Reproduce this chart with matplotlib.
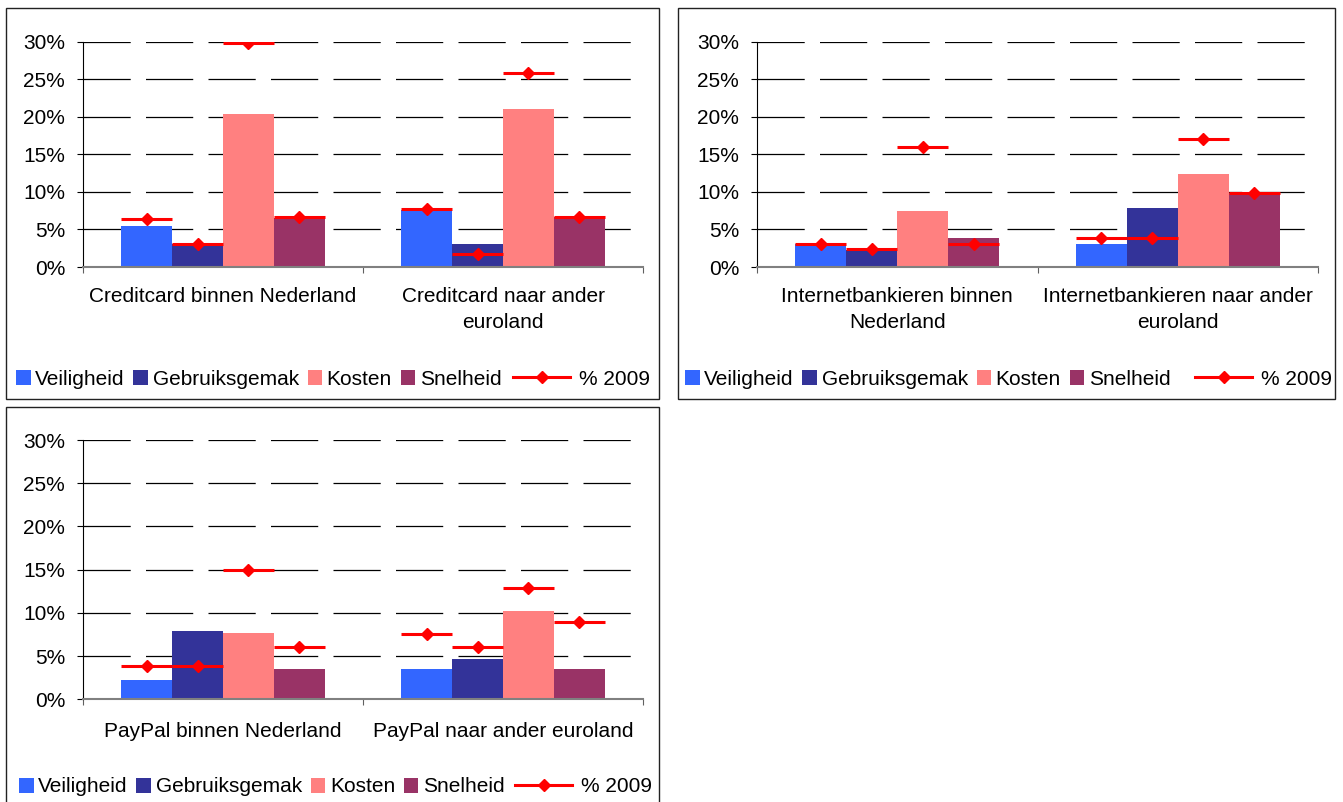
import matplotlib
matplotlib.use('Agg')
import matplotlib.pyplot as plt
from matplotlib.patches import Rectangle, Patch
from matplotlib.lines import Line2D
from matplotlib.ticker import FuncFormatter, MultipleLocator

# series names and colours
SERIES = ['Veiligheid', 'Gebruiksgemak', 'Kosten', 'Snelheid']
COLORS = ['#3366FF', '#333399', '#FF8080', '#993366']
LINE_LABEL = '% 2009'

# Creditcard
cc_categories = ['Creditcard binnen Nederland', 'Creditcard naar ander\neuroland']
cc_veiligheid = [5.4, 7.6]
cc_gebruiksgemak = [3.0, 3.0]
cc_kosten = [20.3, 21.0]
cc_snelheid = [6.5, 6.7]
cc_2009 = [6.4, 3.0, 29.8, 6.6, 7.7, 1.7, 25.8, 6.7]  # per category, per series

# Internetbankieren
ib_categories = ['Internetbankieren binnen\nNederland', 'Internetbankieren naar ander\neuroland']
ib_veiligheid = [3.0, 3.0]
ib_gebruiksgemak = [2.3, 7.8]
ib_kosten = [7.5, 12.4]
ib_snelheid = [3.8, 9.8]
ib_2009 = [3.0, 2.4, 15.9, 3.0, 3.9, 3.9, 17.0, 9.8]

# PayPal
pp_categories = ['PayPal binnen Nederland', 'PayPal naar ander euroland']
pp_veiligheid = [2.2, 3.5]
pp_gebruiksgemak = [7.9, 4.7]
pp_kosten = [7.7, 10.2]
pp_snelheid = [3.5, 3.5]
pp_2009 = [3.8, 3.8, 15.0, 6.0, 7.5, 6.0, 12.9, 9.0]

plt.rcParams['font.family'] = ['Liberation Sans', 'DejaVu Sans']
plt.rcParams['font.size'] = 15
plt.rcParams['lines.scale_dashes'] = False

W, H = 1343, 802
fig = plt.figure(figsize=(W / 100, H / 100), dpi=100)

BAR_W = 0.182


def drawPanel(box, area, categories, series_values, values2009, leg_y, leg_left, leg_right, xpad):
    # frame around the panel (pixel coords, top-left origin)
    x0, y0, x1, y1 = box
    fig.patches.append(Rectangle((x0 / W, 1 - y1 / H), (x1 - x0) / W, (y1 - y0) / H,
                                 transform=fig.transFigure, fill=False,
                                 edgecolor='#222222', lw=1.0))
    left, top, right, bottom = area
    ax = fig.add_axes([left / W, 1 - bottom / H, (right - left) / W, (bottom - top) / H])

    xs = []
    for c in range(len(categories)):
        for s in range(len(SERIES)):
            xs.append(c + (s - 1.5) * BAR_W)
    for s, vals in enumerate(series_values):
        pos = [c + (s - 1.5) * BAR_W for c in range(len(categories))]
        ax.bar(pos, vals, width=BAR_W, color=COLORS[s], zorder=2)

    ax.errorbar(xs, values2009, xerr=BAR_W / 2, fmt='D', color='red', ms=6.5,
                elinewidth=2.2, capsize=0, zorder=3)

    ax.set_xlim(-0.5, len(categories) - 0.5)
    ax.set_ylim(0, 30)
    ax.yaxis.set_major_locator(MultipleLocator(5))
    ax.yaxis.set_major_formatter(FuncFormatter(lambda v, p: '%d%%' % v))
    ax.set_axisbelow(True)
    ax.yaxis.grid(True, color='black', lw=0.9, linestyle=(0, (34, 11)))

    ax.set_xticks(range(len(categories)))
    ax.set_xticklabels(categories, linespacing=1.45)
    ax.set_xticks([-0.5, 0.5, 1.5], minor=True)
    ax.tick_params(axis='x', which='major', length=0, pad=xpad)
    ax.tick_params(axis='x', which='minor', length=4.3, width=0.8, color='#606060')
    ax.tick_params(axis='y', length=4.3, width=0.8, pad=8.6)

    for sp in ['top', 'right']:
        ax.spines[sp].set_visible(False)
    ax.spines['left'].set_linewidth(0.8)
    ax.spines['bottom'].set_color('#808080')
    ax.spines['bottom'].set_linewidth(1.5)

    handles = [Patch(facecolor=c) for c in COLORS]
    leg1 = ax.legend(handles, SERIES, loc='center left',
                     bbox_to_anchor=(leg_left / W, 1 - leg_y / H), bbox_transform=fig.transFigure,
                     ncol=4, frameon=False, handlelength=0.7, handleheight=0.7,
                     handletextpad=0.22, columnspacing=0.42, borderpad=0, borderaxespad=0)
    ax.add_artist(leg1)
    line = Line2D([], [], color='red', marker='D', ms=6.5, lw=2.2)
    ax.legend([line], [LINE_LABEL], loc='center right',
              bbox_to_anchor=(leg_right / W, 1 - leg_y / H), bbox_transform=fig.transFigure,
              frameon=False, handlelength=2.7, handletextpad=0.45,
              borderpad=0, borderaxespad=0)
    return ax


drawPanel((5.5, 7.5, 659, 399), (83, 41.5, 643, 267), cc_categories,
          [cc_veiligheid, cc_gebruiksgemak, cc_kosten, cc_snelheid], cc_2009, 379, 16, 650, 14.5)
drawPanel((678, 7.5, 1335, 399), (757, 41.5, 1318, 267), ib_categories,
          [ib_veiligheid, ib_gebruiksgemak, ib_kosten, ib_snelheid], ib_2009, 379, 685, 1332, 14.5)
drawPanel((5.5, 407, 659, 803), (83, 440, 643, 699.3), pp_categories,
          [pp_veiligheid, pp_gebruiksgemak, pp_kosten, pp_snelheid], pp_2009, 787, 19, 652, 16.5)

fig.savefig('out.png', dpi=100)
